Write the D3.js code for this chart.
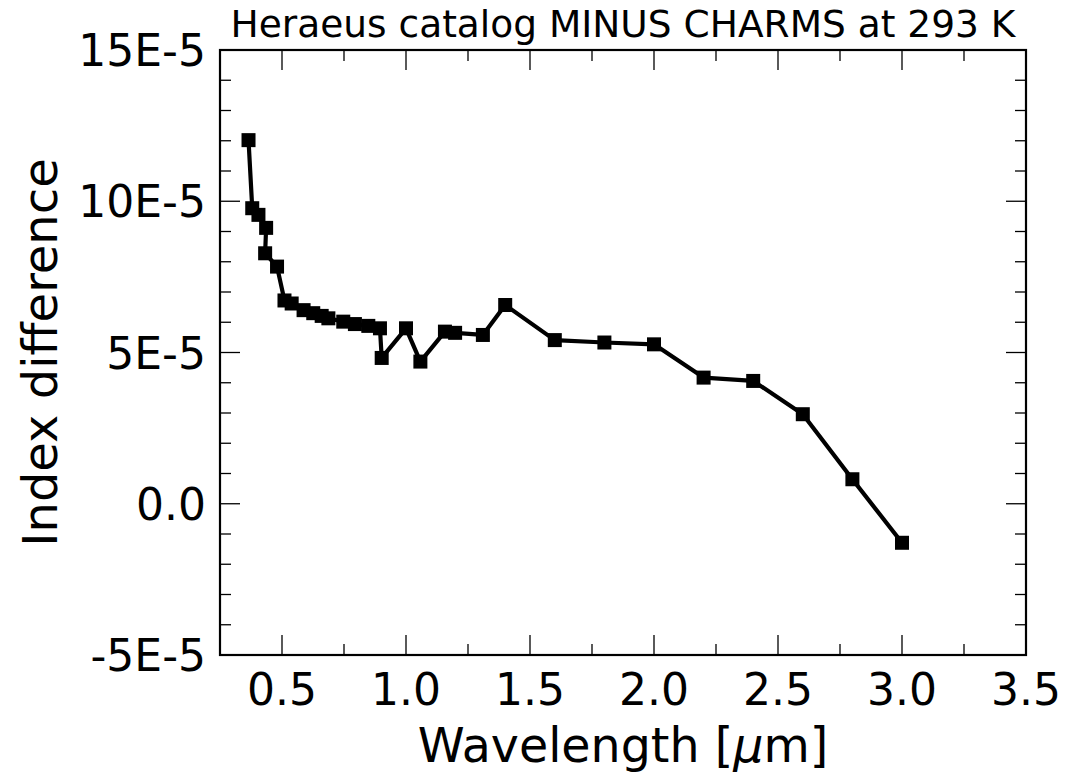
<!DOCTYPE html>
<html><head><meta charset="utf-8">
<script src="https://cdn.jsdelivr.net/npm/d3@7"></script>
<style>body{margin:0;background:#fff;} text{font-family:"DejaVu Sans",sans-serif;}</style>
</head><body>
<svg id="chart" width="1069" height="775"></svg>
<script>
const wavelengths = [0.365,0.38,0.405,0.436,0.432,0.48,0.51,0.539,0.587,0.626,0.66,0.687,0.747,0.794,0.848,0.895,0.902,1.0,1.058,1.157,1.198,1.31,1.4,1.6,1.8,2.0,2.2,2.4,2.6,2.8,3.0];
const diffs = [12.02,9.77,9.55,9.12,8.28,7.84,6.72,6.62,6.40,6.30,6.21,6.13,6.02,5.94,5.88,5.80,4.82,5.80,4.70,5.69,5.65,5.58,6.57,5.41,5.33,5.27,4.17,4.06,2.96,0.81,-1.29];
const yTicks = [-5,0,5,10,15];
const yTickLabels = ["-5E-5","0.0","5E-5","10E-5","15E-5"];
const xTicks = [0.5,1.0,1.5,2.0,2.5,3.0,3.5];
const title = "Heraeus catalog MINUS CHARMS at 293 K";
const xLabelParts = ["Wavelength [", "\u03bc", "m]"];
const yLabel = "Index difference";

const L=220, R=1026, T=50, B=655;
const svg = d3.select("#chart");
const x = d3.scaleLinear().domain([0.25,3.5]).range([L,R]);
const y = d3.scaleLinear().domain([-5,15]).range([B,T]);

const xMinor = d3.range(0.25,3.5001,0.25).filter(v=>!xTicks.some(t=>Math.abs(t-v)<1e-6));
const yMinor = d3.range(-5,15.0001,1).filter(v=>!yTicks.some(t=>Math.abs(t-v)<1e-6));

const tickG = svg.append("g").attr("stroke","#000").attr("stroke-width",1.3);
xTicks.forEach(v=>{
  tickG.append("line").attr("x1",x(v)).attr("x2",x(v)).attr("y1",B).attr("y2",B-20);
  tickG.append("line").attr("x1",x(v)).attr("x2",x(v)).attr("y1",T).attr("y2",T+20);
});
xMinor.forEach(v=>{
  tickG.append("line").attr("x1",x(v)).attr("x2",x(v)).attr("y1",B).attr("y2",B-11);
  tickG.append("line").attr("x1",x(v)).attr("x2",x(v)).attr("y1",T).attr("y2",T+11);
});
yTicks.forEach(v=>{
  tickG.append("line").attr("x1",L).attr("x2",L+20).attr("y1",y(v)).attr("y2",y(v));
  tickG.append("line").attr("x1",R).attr("x2",R-20).attr("y1",y(v)).attr("y2",y(v));
});
yMinor.forEach(v=>{
  tickG.append("line").attr("x1",L).attr("x2",L+11).attr("y1",y(v)).attr("y2",y(v));
  tickG.append("line").attr("x1",R).attr("x2",R-11).attr("y1",y(v)).attr("y2",y(v));
});

svg.append("rect").attr("x",L).attr("y",T).attr("width",R-L).attr("height",B-T)
  .attr("fill","none").attr("stroke","#000").attr("stroke-width",2.2);

xTicks.forEach(v=>{
  svg.append("text").attr("x",x(v)).attr("y",B+50).attr("text-anchor","middle")
    .attr("font-size",44).text(d3.format(".1f")(v));
});
yTicks.forEach((v,i)=>{
  svg.append("text").attr("x",L-14).attr("y",y(v)+16).attr("text-anchor","end")
    .attr("font-size",44).text(yTickLabels[i]);
});

const data = wavelengths.map((w,i)=>({w,v:diffs[i]}));
svg.append("path").datum(data)
  .attr("d",d3.line().x(d=>x(d.w)).y(d=>y(d.v)))
  .attr("fill","none").attr("stroke","#000").attr("stroke-width",4.2).attr("stroke-linejoin","round");
svg.append("g").selectAll("rect").data(data).join("rect")
  .attr("x",d=>x(d.w)-7).attr("y",d=>y(d.v)-7).attr("width",14).attr("height",14).attr("fill","#000");

svg.append("text").attr("x",(L+R)/2).attr("y",37).attr("text-anchor","middle").attr("font-size",37.5).text(title);
const xl = svg.append("text").attr("x",(L+R)/2).attr("y",762).attr("text-anchor","middle").attr("font-size",47.5);
xl.append("tspan").text(xLabelParts[0]);
xl.append("tspan").attr("font-style","italic").text(xLabelParts[1]);
xl.append("tspan").text(xLabelParts[2]);
svg.append("text").attr("transform",`translate(57,${(T+B)/2}) rotate(-90)`).attr("text-anchor","middle").attr("font-size",48).text(yLabel);
</script>
</body></html>
